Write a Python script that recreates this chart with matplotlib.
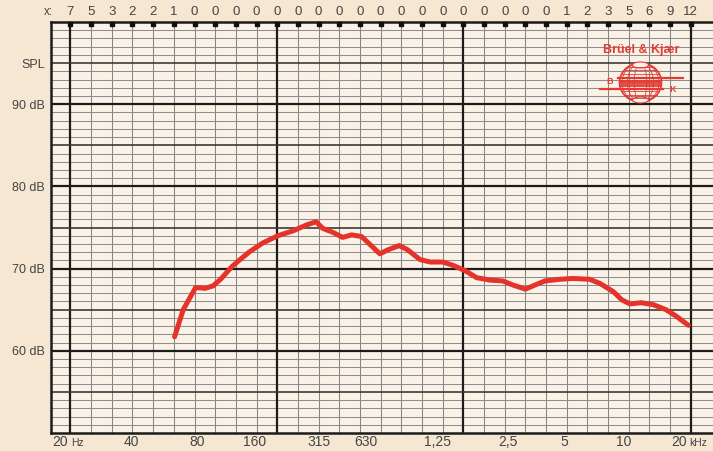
import matplotlib
matplotlib.use("Agg")
import matplotlib.pyplot as plt
import numpy as np
from matplotlib.patches import Ellipse
from matplotlib.transforms import blended_transform_factory, offset_copy

# ---------------- data ----------------
freq_hz = [64, 70.5, 81, 90, 98.5, 108, 121, 133, 148, 171,
           203, 241, 279, 311, 335, 376, 418, 463, 517, 570,
           634, 697, 788, 864, 993, 1114, 1280, 1437, 1643, 1870,
           2172, 2502, 2808, 3225, 3588, 4017, 4744, 5487, 6601, 7410,
           8610, 9466, 10384, 11763, 13512, 15521, 17421, 19920]
spl_db = [61.7, 65.0, 67.7, 67.6, 67.9, 68.8, 70.2, 71.1, 72.05, 73.1,
          74.0, 74.6, 75.3, 75.7, 74.9, 74.4, 73.8, 74.1, 73.9, 72.9,
          71.8, 72.3, 72.8, 72.3, 71.1, 70.8, 70.8, 70.4, 69.75, 68.9,
          68.6, 68.5, 68.0, 67.5, 68.0, 68.5, 68.7, 68.8, 68.7, 68.2,
          67.2, 66.2, 65.7, 65.85, 65.6, 65.0, 64.2, 63.1]

top_scale = ["7", "5", "3", "2", "2", "1",
             "0", "0", "0", "0", "0", "0", "0", "0", "0",
             "0", "0", "0", "0", "0", "0", "0", "0", "0",
             "1", "2", "3", "5", "6", "9", "12"]
bottom_labels = ["40", "80", "160", "315", "630", "1,25", "2,5", "5", "10"]
bottom_freqs = [40, 80, 160, 315, 630, 1250, 2500, 5000, 10000]
y_ticks = [60, 70, 80, 90, 95]
y_labels = ["60 dB", "70 dB", "80 dB", "90 dB", "SPL"]

# ---------------- layout ----------------
W, H = 713, 451
plt.rcParams['font.family'] = ['Liberation Sans', 'DejaVu Sans']
fig = plt.figure(figsize=(W / 100, H / 100), dpi=100)
fig.patch.set_facecolor('#f6e7d2')
paper = '#fbf2e7'

ax = fig.add_axes([50.7 / W, 18 / H, (W - 50.7) / W, 411 / H])
ax.set_facecolor(paper)
ax.set_xscale('log')
ax.set_xlim(16.04, 26230)
ax.set_ylim(50, 100)

# third-octave grid (20 Hz .. 20 kHz)
third_oct = 20 * 2 ** (np.arange(31) / 3)
thick_idx = {0, 10, 19, 30}
for k, f in enumerate(third_oct):
    if k in thick_idx:
        ax.axvline(f, color='#1c1c1c', lw=1.6, zorder=2)
    else:
        ax.axvline(f, color='#858585', lw=0.75, zorder=1)
for d in range(51, 100):
    if d % 10 == 0:
        ax.axhline(d, color='#1c1c1c', lw=1.6, zorder=2)
    elif d % 5 == 0:
        ax.axhline(d, color='#333333', lw=1.15, zorder=2)
    else:
        ax.axhline(d, color='#8c8c94', lw=0.75, zorder=1)

for s in ['top', 'bottom', 'left']:
    ax.spines[s].set_color('#1c1c1c')
    ax.spines[s].set_linewidth(1.8)
ax.spines['right'].set_visible(False)

# tick marks along top edge
ax.plot(third_oct, [99.7] * len(third_oct), 's', ms=3.3, color='#111111',
        clip_on=False, zorder=5)

# ticks/labels
ax.set_xticks([])
ax.xaxis.set_minor_locator(matplotlib.ticker.NullLocator())
ax.set_yticks(y_ticks)
ax.set_yticklabels(y_labels)
ax.tick_params(axis='y', length=0, pad=4, labelsize=9, labelcolor='#444444')

txt_color = '#444444'
tr_top = blended_transform_factory(ax.transData, ax.transAxes)
for f, lbl in zip(third_oct, top_scale):
    ax.text(f, 1.0243, lbl, transform=tr_top, ha='center', va='center',
            fontsize=9.5, color=txt_color)
fig.text(48.5 / W, 1 - 12 / H, 'x:', ha='center', va='center', fontsize=8.5,
         color=txt_color)

yb = -0.0225
nudges_px = [-0.7, 2.3, -1.7, 1.3, -13.7, -2.7, 5.2, 0.0, -2.8]
for f, lbl, n in zip(bottom_freqs, bottom_labels, nudges_px):
    t = offset_copy(tr_top, fig=fig, x=n * 0.72, y=0, units='points')
    ax.text(f, yb, lbl, transform=t, ha='center', va='center', fontsize=10,
            color=txt_color)
# 20 Hz and 20 kHz
for f, unit in [(20, 'Hz'), (20000, 'kHz')]:
    t1 = offset_copy(tr_top, fig=fig, x=-1.6, y=0, units='points')
    t2 = offset_copy(tr_top, fig=fig, x=0.2, y=-0.4, units='points')
    ax.text(f, yb, '20', transform=t1, ha='right', va='center', fontsize=10,
            color=txt_color)
    ax.text(f, yb, unit, transform=t2, ha='left', va='center', fontsize=7.5,
            color=txt_color)

# the recorded curve
ax.plot(freq_hz, spl_db, color='#e5322b', lw=3.6, solid_capstyle='round',
        solid_joinstyle='round', zorder=6)

# ---------------- logo ----------------
red = '#e33b34'
lax = fig.add_axes([596 / W, 1 - 106 / H, 104 / W, 66 / H])
lax.set_xlim(596, 700)
lax.set_ylim(106, 40)
lax.axis('off')
lax.patch.set_visible(False)
lax.text(641.5, 50.5, 'Brüel & Kjær', ha='center', va='center', fontsize=9,
         fontweight='bold', color=red)
cx, cy, rx, ry = 640.5, 82.5, 21, 19.5
lax.add_patch(Ellipse((cx, cy), 2 * rx, 2 * ry, fill=False, ec=red, lw=1.2))
for frac in [0.3, 0.62, 0.88]:
    lax.add_patch(Ellipse((cx, cy), 2 * rx * frac, 2 * ry, fill=False,
                          ec=red, lw=0.6))
for dy in np.linspace(-ry, ry, 12)[1:-1]:
    half = rx * np.sqrt(1 - (dy / ry) ** 2)
    lax.plot([cx - half, cx + half], [cy + dy, cy + dy], color=red, lw=0.6)
# central band
for yy in [80.5, 83, 85.5]:
    half = rx * np.sqrt(1 - ((yy - cy) / ry) ** 2)
    lax.plot([cx - half, cx + half], [yy, yy], color=red, lw=1.3)
lax.plot([618, 683], [78, 78], color=red, lw=1.6)
lax.plot([600, 663], [89, 89], color=red, lw=1.6)
lax.text(610, 82, 'B', ha='center', va='center', fontsize=6.5,
         fontweight='bold', color=red)
lax.text(673, 89.5, 'K', ha='center', va='center', fontsize=6.5,
         fontweight='bold', color=red)
# caps at top and bottom
lax.add_patch(Ellipse((cx, cy - ry + 2), 16, 6, fc=paper, ec=red, lw=0.8))
lax.add_patch(Ellipse((cx, cy + ry - 2), 16, 6, fc=paper, ec=red, lw=0.8))

fig.savefig('out.png', dpi=100, facecolor=fig.get_facecolor())
